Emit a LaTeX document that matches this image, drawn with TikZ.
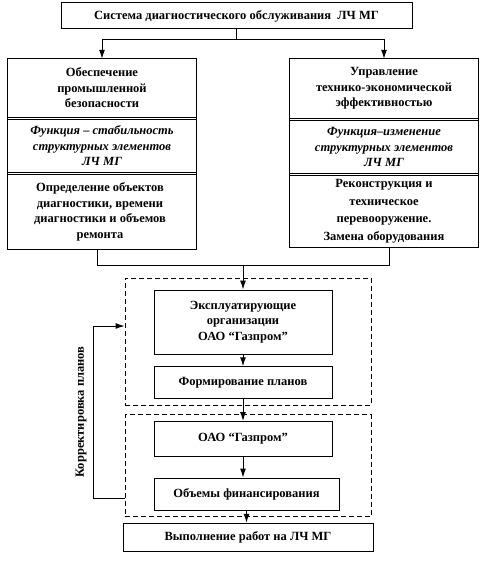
\documentclass[tikz,border=0pt]{standalone}
\usepackage{fontspec}
\setmainfont{Liberation Serif}
\usetikzlibrary{positioning,arrows.meta}

\begin{document}
\begin{tikzpicture}[x=1pt, y=-1pt,
    txt/.style={font=\fontsize{12.5}{15.5}\selectfont\bfseries, align=center, inner sep=0pt},
    ital/.style={txt, font=\fontsize{12.5}{15.5}\selectfont\bfseries\itshape},
    box/.style={txt, draw, line width=1pt},
    frame/.style={draw, dash pattern=on 5pt off 3pt, line width=1pt, inner sep=0pt},
    line/.style={line width=1pt},
    arr/.style={line, -{Latex[length=9pt,width=6pt]}}]

    \useasboundingbox (0,0) rectangle (491,561);

    % Top box
    \node[box, minimum width=351pt, minimum height=26pt] (sys) at (236.5,16) {Система диагностического обслуживания\ \ ЛЧ МГ};

    % Left column
    \node[txt, minimum width=188pt, minimum height=58pt] (ls1) at (102,88) {Обеспечение\\промышленной\\безопасности};
    \node[ital, minimum width=188pt, minimum height=52pt] (ls2) at (102,146) {Функция -- стабильность\\структурных элементов\\ЛЧ МГ};
    \node[txt, minimum width=188pt, minimum height=74pt] (ls3) at (100,212) {Определение объектов\\диагностики, времени\\диагностики и объемов\\ремонта};
    \draw[line] (ls1.north west) rectangle (ls3.south east -| ls1.east);
    \draw[line] (ls1.south west) -- (ls1.south east);
    \draw[line] (ls2.north west) -- (ls2.north east);
    \draw[line] (ls2.south west) -- (ls2.south east);
    \draw[line] (ls2.west |- ls3.north) -- (ls2.east |- ls3.north);

    % Right column
    \node[txt, minimum width=188pt, minimum height=59pt] (rs1) at (384,88.5) {Управление\\технико-экономической\\эффективностью};
    \node[ital, minimum width=188pt, minimum height=52pt] (rs2) at (384,147) {Функция--изменение\\структурных элементов\\ЛЧ МГ};
    \node[txt, minimum width=188pt, minimum height=71pt, font=\fontsize{12.5}{17.5}\selectfont\bfseries] (rs3) at (384,211.5) {Реконструкция и\\техническое\\перевооружение.\\Замена оборудования};
    \draw[line] (rs1.north west) rectangle (rs3.south east);
    \draw[line] (rs1.south west) -- (rs1.south east);
    \draw[line] (rs2.north west) -- (rs2.north east);
    \draw[line] (rs2.south west) -- (rs2.south east);
    \draw[line] (rs3.north west) -- (rs3.north east);

    % Planning blocks
    \node[frame, minimum width=246pt, minimum height=127pt] (frame1) at (248,341.5) {};
    \node[box, minimum width=178pt, minimum height=64pt] (org) at (243,322) {Эксплуатирующие\\организации\\ОАО “Газпром”};
    \node[box, minimum width=178pt, minimum height=31.5pt] (plan) at (243,382.5) {Формирование планов};

    \node[frame, minimum width=246pt, minimum height=102pt] (frame2) at (248,465.5) {};
    \node[box, minimum width=178pt, minimum height=35pt] (gaz) at (243,439) {ОАО “Газпром”};
    \node[box, minimum width=185pt, minimum height=32pt] (fin) at (246.5,494) {Объемы финансирования};

    \node[box, minimum width=250pt, minimum height=28.5pt] (work) at (248,537.5) {Выполнение работ на ЛЧ МГ};

    % Connectors
    \coordinate (split) at (236.5,40);
    \draw[line] (sys.south) -- (split);
    \draw[arr] (split) -| (ls1.north);
    \draw[arr] (split) -| (rs1.north);

    \coordinate (merge) at (243,265);
    \draw[line] ([xshift=-5pt]ls1.south |- ls3.south) |- (merge);
    \draw[line] ([xshift=5pt]rs3.south) |- (merge);
    \draw[arr] (merge) -- (org.north);

    \draw[arr] (org.south) -- (plan.north);
    \draw[arr] (plan.south) -- (gaz.north);
    \draw[arr] (gaz.south) -- (gaz.south |- fin.north);
    \draw[arr] (fin.south) -- (fin.south |- work.north);

    % Feedback
    \coordinate (fbA) at (93,498);
    \coordinate (fbB) at (93,326);
    \draw[arr] (frame2.west |- fbA) -- (fbA) -- node[sloped, above, txt, inner sep=6pt] {Корректировка планов} (fbB) -- (frame1.west |- fbB);
\end{tikzpicture}
\end{document}
